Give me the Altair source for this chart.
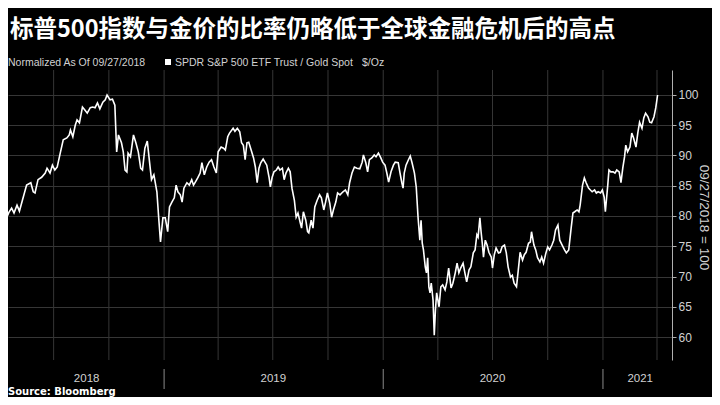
import altair as alt
import pandas as pd

title_text = "标普500指数与金价的比率仍略低于全球金融危机后的高点"
subtitle_norm = "Normalized As Of 09/27/2018"
subtitle_series = "SPDR S&P 500 ETF Trust / Gold Spot"
subtitle_unit = "$/Oz"
source_text = "Source: Bloomberg"
axis_title = "09/27/2018 = 100"

base_date = "2019-01-01"
day_offsets = [
    -273, -269, -267, -262, -258, -254, -250, -245, -241, -236,
    -229, -222, -218, -215, -210, -204, -198, -195, -190, -186,
    -182, -178, -173, -168, -162, -158, -156, -152, -148, -145,
    -141, -136, -132, -128, -123, -119, -115, -111, -107, -102,
    -98, -95, -90, -86, -82, -79, -76, -71, -68, -65,
    -62, -60, -56, -51, -47, -43, -39, -36, -32, -28,
    -25, -21, -17, -12, -9, -6, -2, 2, 6, 9,
    13, 17, 20, 23, 27, 30, 33, 38, 42, 46,
    49, 52, 56, 60, 63, 67, 71, 75, 79, 83,
    87, 90, 95, 99, 102, 106, 109, 115, 118, 122,
    126, 129, 132, 135, 138, 141, 145, 149, 152, 155,
    158, 161, 165, 168, 171, 175, 177, 180, 183, 187,
    190, 193, 197, 200, 203, 207, 210, 213, 217, 220,
    223, 227, 229, 232, 236, 239, 241, 245, 248, 251,
    255, 259, 262, 266, 269, 272, 276, 279, 282, 286,
    289, 293, 298, 302, 306, 309, 313, 317, 321, 326,
    330, 332, 336, 339, 342, 346, 350, 353, 357, 361,
    364, 368, 371, 374, 378, 382, 385, 390, 393, 396,
    398, 400, 403, 407, 410, 413, 417, 420, 423, 426,
    428, 430, 432, 435, 437, 439, 441, 443, 445, 448,
    450, 452, 454, 458, 461, 464, 468, 471, 474, 478,
    481, 485, 488, 491, 494, 498, 501, 504, 508, 511,
    515, 518, 521, 523, 526, 528, 530, 532, 535, 538,
    541, 545, 547, 550, 553, 557, 560, 563, 567, 570,
    573, 577, 580, 583, 587, 590, 593, 597, 600, 603,
    607, 610, 612, 616, 619, 622, 626, 629, 632, 636,
    639, 642, 646, 649, 652, 656, 659, 663, 667, 670,
    674, 678, 681, 684, 688, 691, 693, 697, 700, 703,
    707, 710, 713, 717, 720, 723, 727, 730, 733, 735,
    739, 741, 744, 748, 751, 754, 758, 761, 764, 767,
    769, 772, 776, 779, 782, 786, 789, 792, 796, 799,
    802, 806, 809, 812, 816, 819, 822,
]
ratio = [
    77.7, 80.8, 79.0, 79.8, 80.7, 81.3, 80.5, 81.8, 80.8, 82.6,
    85.1, 85.5, 84.0, 83.8, 86.0, 86.4, 87.1, 87.9, 87.1, 88.4,
    87.6, 88.1, 90.4, 92.6, 92.9, 93.4, 94.2, 93.1, 95.0, 95.9,
    95.4, 98.0, 97.5, 97.0, 97.9, 98.0, 97.9, 98.7, 97.7, 98.8,
    99.2, 100.0, 99.2, 99.3, 98.3, 90.6, 93.4, 92.1, 90.6, 87.6,
    87.3, 90.4, 89.8, 93.4, 92.1, 90.6, 87.9, 87.6, 91.2, 92.4,
    89.6, 86.0, 86.8, 84.0, 79.7, 75.7, 79.7, 79.7, 77.4, 81.5,
    82.3, 83.0, 85.1, 84.0, 83.5, 82.3, 84.6, 85.5, 85.1, 86.0,
    85.1, 85.6, 86.3, 87.1, 88.8, 86.8, 88.1, 88.9, 89.3, 88.1,
    87.1, 90.6, 91.4, 91.2, 90.9, 93.1, 93.7, 94.5, 94.0, 94.5,
    93.9, 92.1, 91.7, 89.3, 92.1, 92.2, 90.9, 89.6, 88.1, 85.5,
    87.9, 88.8, 89.4, 88.9, 88.4, 86.3, 84.8, 86.4, 87.3, 87.6,
    88.1, 87.6, 87.9, 86.0, 87.1, 87.9, 87.3, 84.6, 82.6, 79.8,
    80.5, 78.8, 78.0, 80.7, 79.3, 77.4, 77.2, 79.3, 78.0, 81.5,
    82.6, 83.5, 83.0, 81.0, 82.3, 83.8, 82.1, 79.8, 81.0, 82.3,
    83.8, 83.5, 84.0, 84.3, 83.5, 85.5, 87.1, 88.1, 87.9, 87.8,
    88.9, 90.1, 88.8, 87.3, 89.3, 89.6, 90.1, 89.8, 90.4, 89.6,
    88.9, 88.4, 87.1, 85.6, 87.3, 88.4, 88.9, 88.8, 87.1, 85.5,
    84.6, 87.1, 88.4, 89.3, 89.9, 88.8, 87.1, 84.8, 79.8, 76.0,
    79.3, 75.5, 74.4, 71.6, 70.6, 73.1, 68.3, 67.3, 68.9, 66.1,
    60.3, 64.5, 67.3, 65.0, 68.3, 68.6, 67.8, 69.1, 71.4, 68.1,
    68.9, 70.6, 72.2, 70.6, 71.4, 72.2, 70.6, 69.1, 71.1, 71.6,
    73.9, 74.4, 76.9, 76.5, 79.7, 77.4, 75.5, 73.2, 76.0, 75.2,
    74.0, 73.2, 71.4, 73.6, 74.7, 73.9, 74.0, 74.9, 75.2, 73.9,
    71.6, 69.9, 70.2, 68.9, 68.3, 71.1, 74.0, 72.7, 73.6, 74.0,
    75.5, 75.7, 77.4, 75.2, 74.4, 73.1, 72.4, 73.2, 72.2, 73.9,
    74.9, 74.4, 75.2, 76.0, 77.7, 78.5, 76.0, 75.2, 74.4, 73.9,
    74.4, 78.0, 80.5, 80.7, 81.0, 80.7, 81.8, 85.1, 86.3, 85.5,
    84.6, 84.3, 84.0, 84.3, 83.8, 84.0, 83.8, 84.3, 83.1, 80.7,
    85.1, 87.6, 87.3, 87.3, 87.1, 87.6, 87.3, 85.5, 87.9, 89.8,
    91.7, 90.6, 91.4, 93.7, 92.9, 91.4, 93.7, 95.5, 94.5, 96.2,
    97.0, 96.4, 95.5, 95.4, 96.4, 97.9, 100.0,
]

year_labels = ["2018", "2019", "2020", "2021"]
year_label_dates = ["2018-08-25", "2019-07-02", "2020-07-01", "2021-03-04"]
year_boundaries = ["2019-01-01", "2020-01-01", "2021-01-01"]
quarter_lines = [
    "2018-07-01", "2018-10-01", "2019-01-01", "2019-04-01", "2019-07-01",
    "2019-10-01", "2020-01-01", "2020-04-01", "2020-07-01", "2020-10-01",
    "2021-01-01", "2021-04-01",
]
y_ticks = [60, 65, 70, 75, 80, 85, 90, 95, 100]

dates = pd.Timestamp(base_date) + pd.to_timedelta(day_offsets, unit="D")
df = pd.DataFrame({"date": dates, "ratio": ratio})

month_ticks = [
    alt.DateTime(year=t.year, month=t.month, date=1)
    for t in pd.date_range("2018-05-01", "2021-04-01", freq="MS")
]

x_scale = alt.Scale(
    domain=[alt.DateTime(year=2018, month=4, date=16),
            alt.DateTime(year=2021, month=4, date=26)]
)
y_scale = alt.Scale(domain=[56.2, 104.13], nice=False, zero=False)

GRID = "#363636"
AXIS = "#b0b0b0"
LABEL = "#d2d2d2"
SANS = "'Liberation Sans', Arial, sans-serif"

qdf = pd.DataFrame({"date": pd.to_datetime(quarter_lines)})
grid_v = alt.Chart(qdf).mark_rule(color=GRID, strokeWidth=1).encode(
    x=alt.X("date:T", scale=x_scale, axis=None),
    y=alt.value(0), y2=alt.value(290),
)

line = alt.Chart(df).mark_line(color="white", strokeWidth=1.6, clip=True).encode(
    x=alt.X("date:T", scale=x_scale,
            axis=alt.Axis(orient="bottom", values=month_ticks, labels=False,
                          ticks=True, tickSize=4, tickColor=AXIS,
                          domainColor=AXIS, grid=False, title=None)),
    y=alt.Y("ratio:Q", scale=y_scale,
            axis=alt.Axis(orient="right", values=y_ticks, grid=True,
                          gridColor=GRID, labelColor=LABEL, labelFontSize=12,
                          labelFont=SANS, labelPadding=2, tickSize=4,
                          tickColor=AXIS, domainColor=AXIS,
                          title=axis_title, titleColor=LABEL,
                          titleFontSize=13.5, titleFontWeight="normal",
                          titleFont=SANS, titleAngle=90, titleX=31,
                          titleY=147, titleAlign="center",
                          titleBaseline="middle")),
)

bdf = pd.DataFrame({"date": pd.to_datetime(year_boundaries)})
separators = alt.Chart(bdf).mark_rule(color="#8a8a8a", strokeWidth=1).encode(
    x=alt.X("date:T", scale=x_scale, axis=None),
    y=alt.value(299), y2=alt.value(319),
)

ydf = pd.DataFrame({"date": pd.to_datetime(year_label_dates), "label": year_labels})
year_text = alt.Chart(ydf).mark_text(
    color=LABEL, fontSize=11.5, font=SANS, baseline="middle", align="center"
).encode(
    x=alt.X("date:T", scale=x_scale, axis=None),
    y=alt.value(309),
    text="label:N",
)

def label(text, x, y, **kw):
    return alt.Chart(pd.DataFrame({"t": [text]})).mark_text(
        align="left", baseline="alphabetic", **kw
    ).encode(x=alt.value(x), y=alt.value(y), text="t:N")

title = label(title_text, 2, -33, font="Noto Sans CJK SC", fontSize=23.5,
              fontWeight="bold", color="white")
sub1 = label(subtitle_norm, 0, -4, font=SANS, fontSize=10.5, color=LABEL)
sub2 = label(subtitle_series, 167, -4, font=SANS, fontSize=10.5, color=LABEL)
sub3 = label(subtitle_unit, 354, -4, font=SANS, fontSize=10.5, color=LABEL)
square = alt.Chart(pd.DataFrame({"t": [subtitle_series]})).mark_square(
    color="white", size=36, opacity=1
).encode(x=alt.value(160), y=alt.value(-8))
source = label(source_text, 0, 325, font="DejaVu Sans", fontSize=10,
               fontWeight="bold", color="white")

chart = alt.layer(
    grid_v, line, separators, year_text, title, sub1, square, sub2, sub3, source
).properties(
    width=664, height=290,
    autosize=alt.AutoSizeParams(type="none"),
    padding={"left": 0, "top": 62, "right": 40, "bottom": 37},
    background="black",
).configure_view(stroke=None)

chart.save("out.html", embed_options={"renderer": "svg", "actions": False})
